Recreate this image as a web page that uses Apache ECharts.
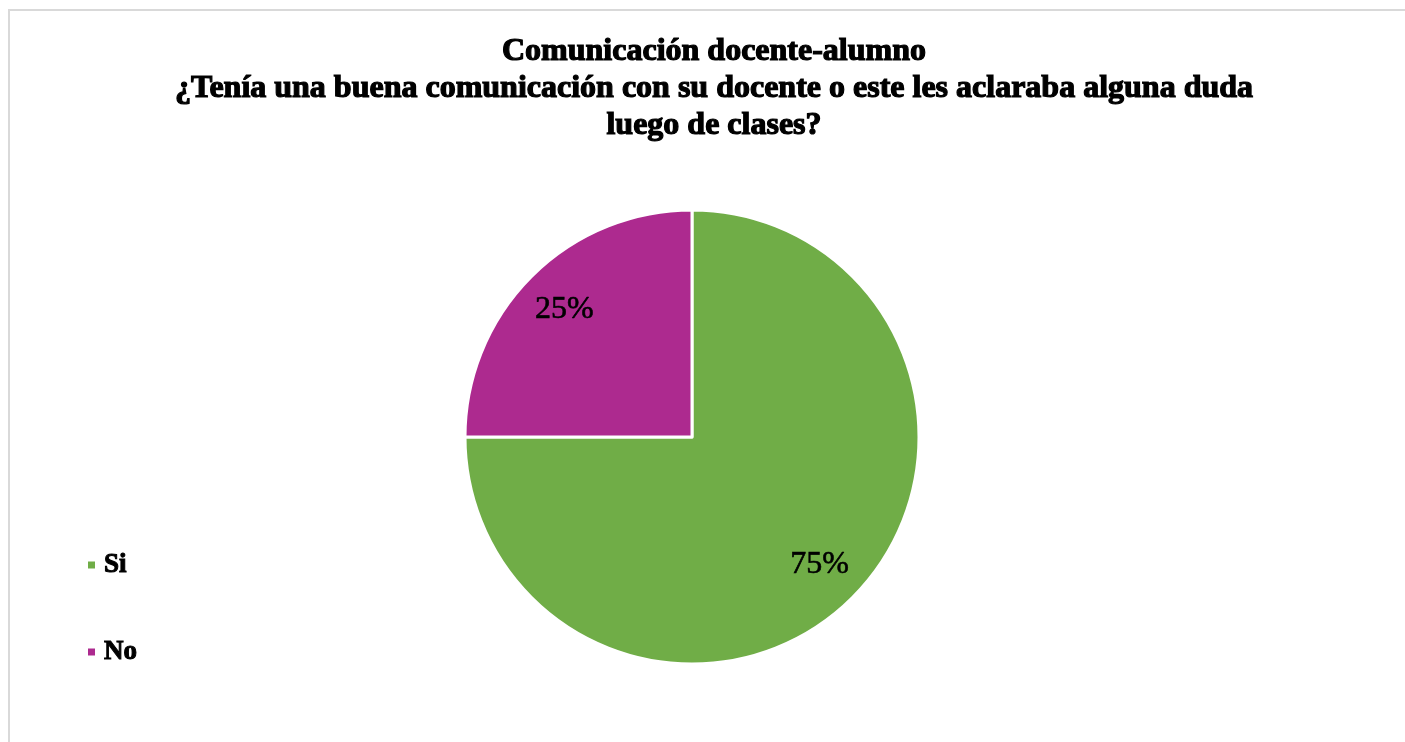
<!DOCTYPE html>
<html>
<head>
<meta charset="utf-8">
<script src="https://cdn.jsdelivr.net/npm/echarts@6/dist/echarts.min.js"></script>
<style>
html,body{margin:0;padding:0;background:#fff;}
#chart{width:1405px;height:742px;}
</style>
</head>
<body>
<div id="chart"></div>
<script>
var titleLines = ['Comunicación docente-alumno', '¿Tenía una buena comunicación con su docente o este les aclaraba alguna duda', 'luego de clases?'];
var categories = ['Si', 'No'];
var values = [75, 25];
var colors = ['#70AD47', '#AD2A8F'];

var serif = "'Liberation Serif', 'Times New Roman', serif";

var data = categories.map(function (c, i) {
  return { name: c, value: values[i], itemStyle: { color: colors[i] } };
});
var labelData = categories.map(function (c, i) {
  return { name: c, value: values[i] };
});

var chart = echarts.init(document.getElementById('chart'));
chart.setOption({
  animation: false,
  backgroundColor: '#fff',
  graphic: [{
    type: 'rect',
    shape: { x: 9, y: 10, width: 1410, height: 760 },
    style: { fill: 'none', stroke: '#d9d9d9', lineWidth: 2 },
    silent: true
  }],
  title: {
    text: titleLines.join('\n'),
    left: 709,
    top: 28,
    textAlign: 'center',
    textStyle: {
      fontFamily: serif,
      fontWeight: 'bold',
      fontSize: 32,
      lineHeight: 37,
      color: '#000',
      textBorderColor: '#000',
      textBorderWidth: 1.2
    }
  },
  legend: {
    orient: 'vertical',
    left: 81,
    top: 546,
    itemWidth: 9,
    itemHeight: 9,
    itemGap: 59,
    icon: 'rect',
    data: categories,
    textStyle: {
      fontFamily: serif,
      fontWeight: 'bold',
      fontSize: 27,
      color: '#000',
      textBorderColor: '#000',
      textBorderWidth: 1,
      padding: [0, 0, 0, 3]
    }
  },
  series: [{
    type: 'pie',
    center: [692, 437],
    radius: [0, 227],
    startAngle: 90,
    clockwise: true,
    data: data,
    label: { show: false },
    labelLine: { show: false },
    itemStyle: { borderColor: '#fff', borderWidth: 3 },
    emphasis: { disabled: true }
  }, {
    type: 'pie',
    center: [692, 437],
    radius: [128, 227],
    startAngle: 90,
    clockwise: true,
    data: labelData,
    silent: true,
    itemStyle: { color: 'rgba(0,0,0,0)' },
    label: {
      show: true,
      position: 'inside',
      formatter: '{d}%',
      fontFamily: serif,
      fontSize: 32,
      color: '#000',
      textBorderColor: '#000',
      textBorderWidth: 0.6
    },
    labelLine: { show: false },
    emphasis: { disabled: true }
  }]
});
</script>
</body>
</html>
